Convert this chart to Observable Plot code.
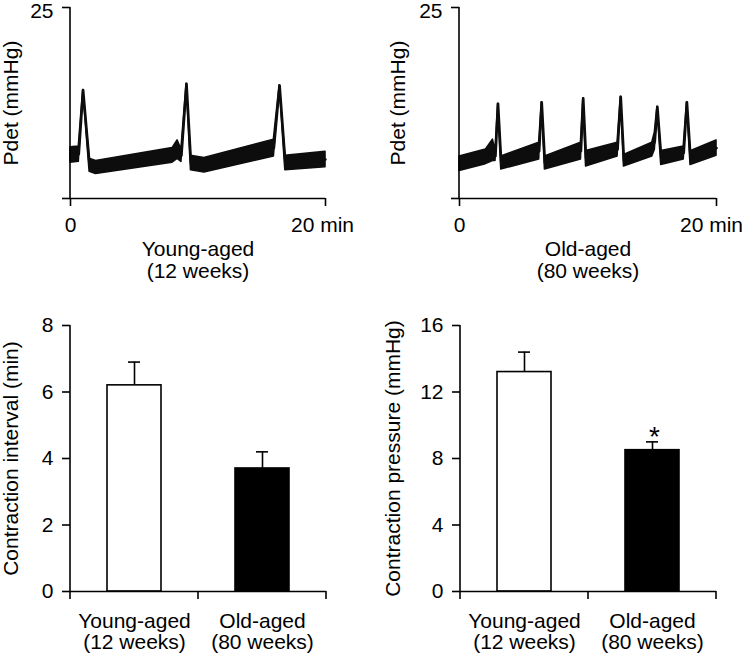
<!DOCTYPE html>
<html>
<head>
<meta charset="utf-8">
<script src="https://cdn.jsdelivr.net/npm/d3@7"></script>
<script src="https://cdn.jsdelivr.net/npm/@observablehq/plot@0.6"></script>
<style>
  body { margin: 0; background: #fff; }
  #wrap { position: relative; width: 746px; height: 656px; overflow: hidden; font-family: "Liberation Sans", Arial, sans-serif; }
  #wrap > div { position: absolute; }
  svg { overflow: visible; }
</style>
</head>
<body>
<div id="wrap">
  <div id="p1" style="left:0;top:0"></div>
  <div id="p2" style="left:373px;top:0"></div>
  <div id="p3" style="left:0;top:300px"></div>
  <div id="p4" style="left:373px;top:300px"></div>
</div>
<script>
// ---- Data ----
// Young-aged (12 weeks) Pdet trace: time (min), lower and upper edge of the recorded band (mmHg)
const youngT  = [0,   0.65, 0.99, 1.5, 2.0, 8.0, 8.4, 8.7, 9.1,  9.45, 10.5, 15.95, 16.4, 16.85, 20];
const youngLo = [4.7, 4.8,  14.2, 3.5, 3.2, 4.7, 5.2, 4.8, 15.0, 3.7,  3.4,  5.5,   14.8, 3.7,   4.1];
const youngHi = [6.7, 6.8,  14.2, 5.2, 4.9, 6.6, 7.6, 6.4, 15.0, 5.6,  5.3,  7.7,   14.8, 5.6,   6.1];
// Old-aged (80 weeks) Pdet trace
const oldT  = [0,   2.05, 2.6, 2.8, 3.0,  3.25, 6.2, 6.4,  6.65, 9.45, 9.63, 9.85, 12.3, 12.55, 12.8, 15.0, 15.2, 15.4, 15.7, 17.45, 17.7, 17.98, 20];
const oldLo = [3.6, 4.5,  4.9, 4.9, 12.4, 3.8,  5.1, 12.6, 3.8,  5.1,  13.1, 4.2,  5.5,  13.3,  4.2,  5.5,  6.4,  12.0, 4.4,  5.1,   12.6, 4.4,   5.6];
const oldHi = [5.5, 6.4,  7.7, 6.2, 12.4, 5.5,  7.3, 12.6, 5.5,  7.3,  13.1, 6.2,  7.3,  13.3,  5.7,  7.3,  8.6,  12.0, 6.2,  6.8,   12.6, 6.2,   7.6];

const traceTicks = [0, 20];
const traceTickLabels = ["0", "20 min"];
const pdetTicks = [0, 25];
const pdetTopLabel = 25;
const pdetLabel = "Pdet (mmHg)";

const groupNames = ["Young-aged", "Old-aged"];
const groupAges = ["(12 weeks)", "(80 weeks)"];
const barFills = ["white", "black"];

const intervalMean = [6.2, 3.7];
const intervalErr  = [6.9, 4.2];
const intervalTicks = [0, 2, 4, 6, 8];
const intervalLabel = "Contraction interval (min)";

const pressureMean = [13.2, 8.5];
const pressureErr  = [14.4, 9.0];
const pressureTicks = [0, 4, 8, 12, 16];
const pressureSig = ["", "*"];
const pressureLabel = "Contraction pressure (mmHg)";

// ---- Helpers ----
const FONT = "Liberation Sans, Arial, sans-serif";
const FS = 21;
const SW = 1.6;
const baseStyle = {fontFamily: FONT, fontSize: FS + "px", color: "#000", background: "transparent", overflow: "visible"};

// left spine (y-axis line) drawn from frame dimensions
const leftSpine = (index, scales, values, dims) =>
  d3.create("svg:line")
    .attr("x1", dims.marginLeft).attr("x2", dims.marginLeft)
    .attr("y1", dims.marginTop).attr("y2", dims.height - dims.marginBottom)
    .attr("stroke", "#000").attr("stroke-width", SW).node();

// tick marks at the boundaries of the band slots
const bandEdges = (index, scales, values, dims) => {
  const n = scales.x.domain().length;
  const step = (dims.width - dims.marginLeft - dims.marginRight) / n;
  const y0 = dims.height - dims.marginBottom;
  const g = d3.create("svg:g").attr("stroke", "#000").attr("stroke-width", SW);
  for (let i = 0; i <= n; i++) {
    const xx = dims.marginLeft + i * step;
    g.append("line").attr("x1", xx).attr("x2", xx).attr("y1", y0).attr("y2", y0 + 8);
  }
  return g.node();
};

function tracePlot(T, LO, HI, gi, ml, mr, ylabDx, endDx) {
  const data = T.map((t, i) => ({t, lo: LO[i], hi: HI[i], mid: (LO[i] + HI[i]) / 2}));
  const ticks = traceTicks.map((v, i) => ({v, label: traceTickLabels[i]}));
  return Plot.plot({
    width: 373, height: 300,
    marginLeft: ml, marginRight: mr, marginTop: 7, marginBottom: 102,
    x: {domain: [0, 20], axis: null},
    y: {domain: [0, 25], axis: null},
    style: baseStyle,
    marks: [
      Plot.areaY(data, {x: "t", y1: "lo", y2: "hi", fill: "#0d0d0d", stroke: "#0d0d0d", strokeWidth: 1.6, strokeLinejoin: "round"}),
      Plot.line(data, {x: "t", y: "mid", stroke: "#0d0d0d", strokeWidth: 2.6, strokeLinejoin: "round"}),
      Plot.ruleY([0], {stroke: "#000", strokeWidth: SW}),
      leftSpine,
      Plot.axisY({ticks: pdetTicks, tickSize: 8, tickFormat: () => "", label: null, strokeWidth: SW}),
      Plot.text([pdetTopLabel], {y: d => d, text: d => String(d), frameAnchor: "left", textAnchor: "end", dx: -17, dy: 4, fontSize: FS}),
      Plot.axisX({ticks: traceTicks, tickSize: 8, tickFormat: () => "", label: null, strokeWidth: SW}),
      Plot.text(ticks.slice(0, 1), {x: "v", text: "label", frameAnchor: "bottom", textAnchor: "middle", lineAnchor: "top", dy: 19, fontSize: FS}),
      Plot.text(ticks.slice(1), {x: "v", text: "label", frameAnchor: "bottom", textAnchor: "middle", lineAnchor: "top", dy: 19, dx: endDx, fontSize: FS}),
      Plot.text([groupNames[gi] + "\n" + groupAges[gi]], {text: d => d, frameAnchor: "bottom", textAnchor: "middle", lineAnchor: "top", dy: 41, lineHeight: 1.08, fontSize: FS}),
      Plot.text([pdetLabel], {text: d => d, frameAnchor: "left", textAnchor: "middle", lineAnchor: "middle", rotate: -90, dx: ylabDx, fontSize: FS})
    ]
  });
}

function barPlot(means, errs, sig, yTicks, ylab, ml, mr, ylabDx) {
  const data = groupNames.map((g, i) => ({
    g, label: g + "\n" + groupAges[i], mean: means[i], hi: errs[i], fill: barFills[i], sig: sig ? sig[i] : ""
  }));
  return Plot.plot({
    width: 373, height: 356,
    marginLeft: ml, marginRight: mr, marginTop: 25, marginBottom: 65,
    x: {domain: groupNames, paddingInner: 0.58, paddingOuter: 0.29, axis: null},
    y: {domain: [yTicks[0], yTicks[yTicks.length - 1]], axis: null},
    color: {type: "identity"},
    style: baseStyle,
    marks: [
      Plot.ruleX(data, {x: "g", y1: "mean", y2: "hi", stroke: "#000", strokeWidth: SW}),
      Plot.tickY(data, {x: "g", y: "hi", stroke: "#000", strokeWidth: SW, insetLeft: 21, insetRight: 21}),
      Plot.barY(data, {x: "g", y: "mean", fill: "fill", stroke: "#000", strokeWidth: SW}),
      Plot.text(data, {x: "g", y: "hi", text: "sig", lineAnchor: "bottom", dy: 4, dx: 2, fontSize: 28}),
      Plot.ruleY([0], {stroke: "#000", strokeWidth: SW}),
      leftSpine,
      bandEdges,
      Plot.axisY({ticks: yTicks, tickSize: 8, tickPadding: 9, label: null, strokeWidth: SW, fontSize: FS}),
      Plot.text(data, {x: "g", text: "label", frameAnchor: "bottom", textAnchor: "middle", lineAnchor: "top", dy: 22, lineHeight: 1.0, fontSize: FS}),
      Plot.text([ylab], {text: d => d, frameAnchor: "left", textAnchor: "middle", lineAnchor: "middle", rotate: -90, dx: ylabDx, fontSize: FS})
    ]
  });
}

document.getElementById("p1").append(tracePlot(youngT, youngLo, youngHi, 0, 70, 48, -59, -3));
document.getElementById("p2").append(tracePlot(oldT, oldLo, oldHi, 1, 86, 30, -61, -5));
document.getElementById("p3").append(barPlot(intervalMean, intervalErr, null, intervalTicks, intervalLabel, 70, 47, -59));
document.getElementById("p4").append(barPlot(pressureMean, pressureErr, pressureSig, pressureTicks, pressureLabel, 87, 30, -67));
</script>
</body>
</html>
